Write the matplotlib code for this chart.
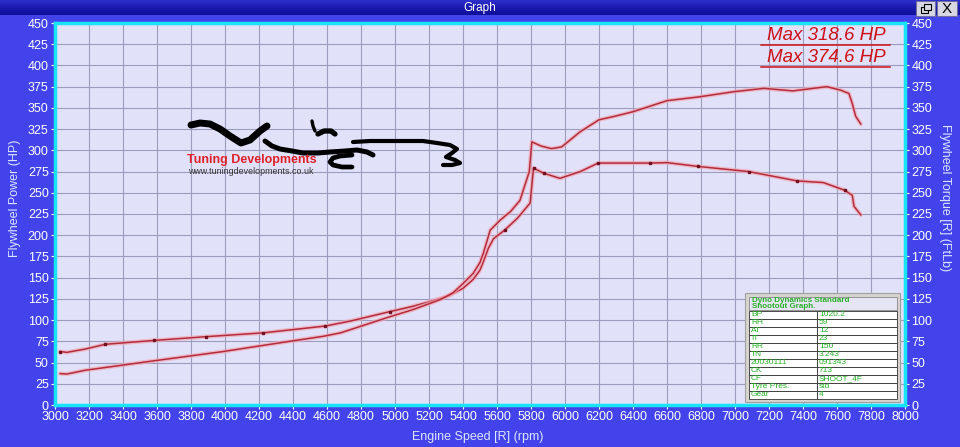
#!/usr/bin/env python3
"""Dyno graph: flywheel power / torque vs engine speed (Dyno Dynamics style)."""
import matplotlib
matplotlib.use("Agg")
import matplotlib.pyplot as plt
import numpy as np
from matplotlib.patches import Rectangle

NARROW = ["Liberation Sans Narrow", "Liberation Sans", "DejaVu Sans"]
ARIAL = ["Liberation Sans", "DejaVu Sans"]

BLUE = "#4343EC"
PLOT_BG = "#E1E1F9"
GRID = "#9C9CBC"
CYAN = "#19E4F6"
LINE = "#B42C3C"
HALO = "#F2A8B4"

# torque curve (marked) - rpm / ftlb
torque_rpm = [3030, 3070, 3180, 3295, 3580, 3890, 4225, 4590, 4740, 4970, 5100,
              5210, 5320, 5400, 5460, 5500, 5520, 5550, 5580, 5645, 5720, 5795,
              5815, 5875, 5970, 6090, 6195, 6500, 6600, 6785, 7080, 7210, 7365,
              7520, 7645, 7690, 7700, 7740]
torque = [63, 62, 66, 71.5, 76, 80.5, 85, 93, 99, 110, 116,
          122, 129, 137.5, 148, 159, 169, 185, 196, 206, 220, 238,
          279, 273, 267, 275, 285, 285, 285.5, 281, 275, 270, 264,
          262, 253, 247, 234, 224]
torque_marks = [0, 3, 4, 5, 6, 7, 9, 19, 22, 23, 26, 27, 29, 30, 32, 34]

# power curve - rpm / hp
power_rpm = [3030, 3070, 3180, 3580, 3990, 4380, 4580, 4680, 4970, 5100, 5210,
             5270, 5340, 5400, 5460, 5500, 5520, 5560, 5620, 5680, 5735, 5790,
             5805, 5860, 5920, 5980, 6090, 6200, 6290, 6400, 6600, 6790, 6990,
             7170, 7340, 7540, 7620, 7670, 7690, 7710, 7740]
power = [37, 36.5, 41, 52, 63, 75, 81, 85, 104, 112, 120,
         124.5, 132, 143, 155, 168, 179, 206, 218, 228, 241, 275,
         310, 305, 302, 304, 322, 336, 340, 345.5, 358.5, 363, 369,
         373, 370, 375, 371, 367, 355, 340, 331]

x_ticks = list(range(3000, 8001, 200))
y_ticks = list(range(0, 451, 25))

max_labels = ["Max 318.6 HP", "Max 374.6 HP"]

table_header = ["Dyno Dynamics Standard", "Shootout Graph."]
table_keys = ["BP", "RH", "AT", "IT", "RR", "TN", "20030111", "CK", "CF",
              "Tyre Pres.", "Gear"]
table_vals = ["1020.2", "59", "12", "23", "150", "3.243", "091343", "713",
              "SHOOT_4F", "std", "4"]

W, H = 960, 447
fig = plt.figure(figsize=(W / 100, H / 100), dpi=100, facecolor=BLUE)

# main plot area (pixel box 55..905 x 23..405)
ax = fig.add_axes([55 / W, (H - 405) / H, 850 / W, 382 / H])
ax.set_facecolor(PLOT_BG)
ax.set_xlim(3000, 8000)
ax.set_ylim(0, 450)
ax.set_xticks(x_ticks)
ax.set_yticks(y_ticks)
ax.grid(True, color=GRID, lw=0.8)
ax.set_axisbelow(True)
for s in ax.spines.values():
    s.set_color(CYAN)
    s.set_linewidth(2.5)
ax.tick_params(axis="both", colors="white", length=3, width=0.8,
               labelsize=9, pad=1.5)
ax.tick_params(axis="y", right=True, labelright=True)
for lab in ax.get_xticklabels() + ax.get_yticklabels():
    lab.set_family(NARROW)

for xs, ys in [(torque_rpm, torque), (power_rpm, power)]:
    ax.plot(xs, ys, color=HALO, lw=3.0, alpha=0.7, solid_capstyle="round",
            solid_joinstyle="round")
    ax.plot(xs, ys, color=LINE, lw=1.1, solid_joinstyle="round")
ax.plot(torque_rpm, torque, ls="none", marker="s", ms=1.6, color="#701020",
        markevery=torque_marks)

# overlay in pixel coordinates
ov = fig.add_axes([0, 0, 1, 1], facecolor="none")
ov.set_xlim(0, W)
ov.set_ylim(H, 0)
ov.axis("off")

# title bar
grad = np.linspace(0, 1, 16).reshape(-1, 1)
ov.imshow(grad, cmap=matplotlib.colors.LinearSegmentedColormap.from_list(
    "tb", ["#2E2ECC", "#1A1AAE", "#10109A"]), extent=[0, W, 15, 0],
    aspect="auto", zorder=1)
ov.text(480, 7.5, "Graph", color="white", fontsize=8.5, family=ARIAL,
        ha="center", va="center", zorder=2)
ov.add_patch(Rectangle((916, 1), 19, 15, fc="#D8D8E4", ec="#7070A0", lw=0.8, zorder=2))
ov.add_patch(Rectangle((921, 7), 7, 6, fc="none", ec="black", lw=0.8, zorder=3))
ov.add_patch(Rectangle((924, 4), 7, 6, fc="#D8D8E4", ec="black", lw=0.8, zorder=3))
ov.add_patch(Rectangle((937, 1), 20, 15, fc="#D8D8E4", ec="#7070A0", lw=0.8, zorder=2))
ov.text(947, 9, "X", color="black", fontsize=11, family=ARIAL,
        ha="center", va="center", zorder=3)

# axis titles
lab_col = "#DDE6FF"
ov.text(15, 198, "Flywheel Power (HP)", rotation=90, color=lab_col,
        fontsize=9, family=NARROW, ha="center", va="center")
ov.text(945, 198, "Flywheel Torque [R] (FtLb)", rotation=270, color=lab_col,
        fontsize=9, family=NARROW, ha="center", va="center")
ov.text(478, 437, "Engine Speed [R] (rpm)", color=lab_col, fontsize=9,
        family=NARROW, ha="center", va="center")

# max labels
for i, txt in enumerate(max_labels):
    yc = 35 + i * 22
    ov.text(826, yc, txt, color="#D01018", fontsize=13.5, style="italic",
            family=ARIAL, ha="center", va="center", zorder=4)
    ov.plot([761, 890], [yc + 10, yc + 10], color="#D01018", lw=1.1, zorder=4)

# logo strokes
strokes = [
    ([191, 200, 210, 220, 230, 241, 250, 260, 267],
     [125, 123, 124, 129, 136, 143, 140, 131, 126], 5.0),
    ([265, 272, 280, 292, 303, 318, 330, 345, 357, 367, 373],
     [141, 146, 149, 151, 153, 153, 152, 151, 150, 152, 155], 3.6),
    ([352, 340, 333, 330, 333, 342, 352],
     [155, 156, 158, 162, 165, 167, 167], 3.4),
    ([353, 370, 387, 405, 423, 437, 450, 457, 452, 446, 455, 460, 452, 443],
     [142, 141, 141, 141, 141, 143, 145, 149, 153, 157, 160, 163, 165, 165], 3.0),
    ([312, 313, 315], [121, 126, 131], 2.4),
    ([318, 324, 331, 335], [134, 131, 131, 134], 3.8),
]
for xs, ys, w in strokes:
    ov.plot(xs, ys, color="black", lw=w, solid_capstyle="round",
            solid_joinstyle="round", zorder=3)
ov.text(187, 160, "Tuning Developments", color="#E0202A", fontsize=9,
        fontweight="bold", family=ARIAL, ha="left", va="center", zorder=3)
ov.text(188, 172, "www.tuningdevelopments.co.uk", color="#333333",
        fontsize=6.4, family=ARIAL, ha="left", va="center", zorder=3)

# data table
ov.add_patch(Rectangle((745, 293), 155, 109, fc="#D6D4CE", ec="#A0A0A0",
                       lw=0.8, zorder=5))
ov.add_patch(Rectangle((749, 297), 148, 13, fc="#E4E4F2", ec="#888888",
                       lw=0.6, zorder=6))
ov.text(752, 300, table_header[0], color="#28B028", fontsize=5.8,
        family=ARIAL, fontweight="bold", ha="left", va="center", zorder=7)
ov.text(752, 306.5, table_header[1], color="#28B028", fontsize=5.8,
        family=ARIAL, fontweight="bold", ha="left", va="center", zorder=7)
row_h = 8
for i, (k, v) in enumerate(zip(table_keys, table_vals)):
    y0 = 311 + i * row_h
    ov.add_patch(Rectangle((749, y0), 68, row_h, fc="white", ec="#333333",
                           lw=0.6, zorder=6))
    ov.add_patch(Rectangle((817, y0), 80, row_h, fc="white", ec="#333333",
                           lw=0.6, zorder=6))
    ov.text(751, y0 + row_h / 2, k, color="#28B028", fontsize=6,
            family=ARIAL, ha="left", va="center", zorder=7)
    ov.text(819, y0 + row_h / 2, v, color="#28B028", fontsize=6,
            family=ARIAL, ha="left", va="center", zorder=7)

fig.savefig("out.png", dpi=100, facecolor=BLUE)
